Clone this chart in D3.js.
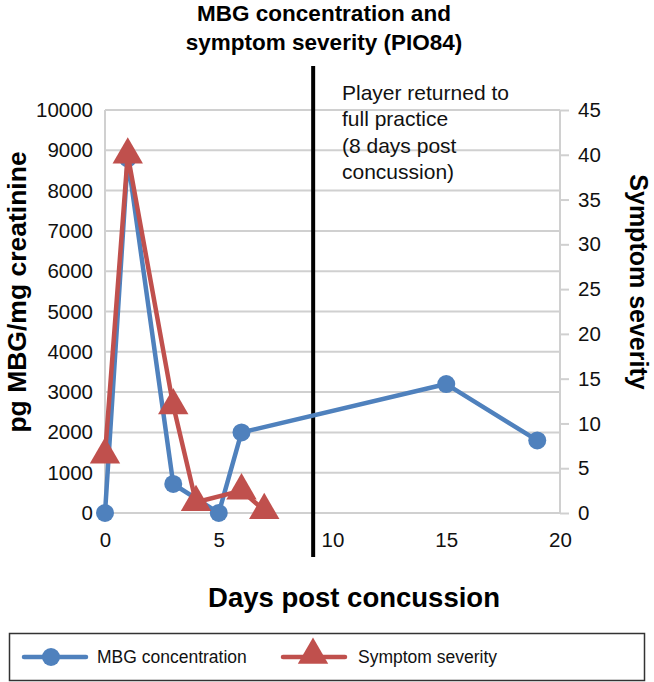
<!DOCTYPE html>
<html><head><meta charset="utf-8">
<script src="https://cdn.jsdelivr.net/npm/d3@7"></script>
<style>body{margin:0;background:#fff;}svg{display:block;font-family:"Liberation Sans",Arial,sans-serif;}</style>
</head><body>
<svg id="c" width="654" height="682"></svg>
<script>
const mbgDays = [0, 1, 3, 5, 6, 15, 19];
const mbgValues = [0, 8800, 720, 0, 2000, 3200, 1800];
const sympDays = [0, 1, 3, 4, 6, 7];
const sympValues = [6.5, 40, 12, 1.2, 2.5, 0.3];
const xTicks = [0, 5, 10, 15, 20];
const yLeftTicks = d3.range(0, 10001, 1000);
const yRightTicks = d3.range(0, 46, 5);
const returnDay = 9.15;
const annotation = ["Player returned to", "full practice", "(8 days post", "concussion)"];

const FONT = "Liberation Sans, Arial, sans-serif";
const svg = d3.select("#c");
const x = d3.scaleLinear().domain([0, 20]).range([105, 560]);
const yL = d3.scaleLinear().domain([0, 10000]).range([513, 110]);
const yR = d3.scaleLinear().domain([0, 45]).range([513, 110]);
const blue = "#4f81bd", red = "#c0504d", grid = "#d0d0d0";

// gridlines
svg.append("g").selectAll("line").data(yLeftTicks).join("line")
  .attr("x1", 105).attr("x2", 560).attr("y1", d => yL(d)).attr("y2", d => yL(d))
  .attr("stroke", grid).attr("stroke-width", 2);
// left axis line
svg.append("line").attr("x1", 105).attr("x2", 105).attr("y1", 110).attr("y2", 513)
  .attr("stroke", grid).attr("stroke-width", 2);

// left axis labels
const gL = svg.append("g").attr("transform", "translate(105,0)")
  .call(d3.axisLeft(yL).tickValues(yLeftTicks).tickSize(0).tickPadding(12).tickFormat(d3.format("d")));
gL.select(".domain").remove();
gL.selectAll("text").attr("font-size", 20.5).attr("fill", "#111").attr("font-family", FONT);

// right axis
const gR = svg.append("g").attr("transform", "translate(560,0)")
  .call(d3.axisRight(yR).tickValues(yRightTicks).tickSize(9).tickPadding(9).tickFormat(d3.format("d")));
gR.select(".domain").attr("stroke", grid).attr("stroke-width", 2).attr("d", "M0,110V513");
gR.selectAll(".tick line").attr("stroke", grid).attr("stroke-width", 2);
gR.selectAll("text").attr("font-size", 20.5).attr("fill", "#111").attr("font-family", FONT);

// x axis
const gX = svg.append("g").attr("transform", "translate(0,513)")
  .call(d3.axisBottom(x).tickValues(xTicks).tickSize(0).tickPadding(19));
gX.select(".domain").remove();
gX.selectAll("text").attr("font-size", 20.5).attr("fill", "#111").attr("font-family", FONT);

// vertical return line
svg.append("line").attr("x1", x(returnDay)).attr("x2", x(returnDay)).attr("y1", 66).attr("y2", 557)
  .attr("stroke", "#000").attr("stroke-width", 4);

// annotation
svg.append("text").attr("font-size", 21).attr("fill", "#111")
  .selectAll("tspan").data(annotation).join("tspan")
  .attr("x", 342).attr("y", (d, i) => 100 + i * 26.3).text(d => d);

// series
const tri = d3.symbol().type(d3.symbolTriangle).size(400);
svg.append("path").datum(mbgDays.map((d, i) => [d, mbgValues[i]]))
  .attr("d", d3.line().x(d => x(d[0])).y(d => yL(d[1])))
  .attr("fill", "none").attr("stroke", blue).attr("stroke-width", 4.5).attr("stroke-linejoin", "round");
svg.append("g").selectAll("circle").data(mbgDays.map((d, i) => [d, mbgValues[i]])).join("circle")
  .attr("cx", d => x(d[0])).attr("cy", d => yL(d[1])).attr("r", 9).attr("fill", blue);

svg.append("path").datum(sympDays.map((d, i) => [d, sympValues[i]]))
  .attr("d", d3.line().x(d => x(d[0])).y(d => yR(d[1])))
  .attr("fill", "none").attr("stroke", red).attr("stroke-width", 4.5).attr("stroke-linejoin", "round");
svg.append("g").selectAll("path").data(sympDays.map((d, i) => [d, sympValues[i]])).join("path")
  .attr("transform", d => `translate(${x(d[0])},${yR(d[1])})`).attr("d", tri).attr("fill", red);

// title
svg.append("text").attr("text-anchor", "middle").attr("font-size", 22.5).attr("font-weight", "bold")
  .selectAll("tspan").data(["MBG concentration and", "symptom severity (PIO84)"]).join("tspan")
  .attr("x", 324).attr("y", (d, i) => 21 + i * 28.5).text(d => d);

// axis titles
svg.append("text").attr("text-anchor", "middle").attr("font-size", 26.5).attr("font-weight", "bold")
  .attr("transform", "translate(26,292) rotate(-90)").text("pg MBG/mg creatinine");
svg.append("text").attr("text-anchor", "middle").attr("font-size", 25).attr("font-weight", "bold")
  .attr("transform", "translate(630,282) rotate(90)").text("Symptom severity");
svg.append("text").attr("text-anchor", "middle").attr("font-size", 27.5).attr("font-weight", "bold")
  .attr("x", 354).attr("y", 607).text("Days post concussion");

// legend
svg.append("rect").attr("x", 9.5).attr("y", 633.5).attr("width", 635).attr("height", 47)
  .attr("fill", "none").attr("stroke", "#333").attr("stroke-width", 1.5);
const lg = [{name: "MBG concentration", color: blue, x0: 24, type: "circle", tx: 97},
            {name: "Symptom severity", color: red, x0: 283, type: "tri", tx: 358}];
lg.forEach(l => {
  svg.append("line").attr("x1", l.x0).attr("x2", l.x0 + 62).attr("y1", 657).attr("y2", 657)
    .attr("stroke", l.color).attr("stroke-width", 4.5).attr("stroke-linecap", "round");
  if (l.type === "circle") svg.append("circle").attr("cx", l.x0 + 27).attr("cy", 657).attr("r", 9).attr("fill", l.color);
  else svg.append("path").attr("transform", `translate(${l.x0 + 30},655)`).attr("d", tri).attr("fill", l.color);
  svg.append("text").attr("x", l.tx).attr("y", 663).attr("font-size", 17.5).attr("fill", "#111").text(l.name);
});
</script>
</body></html>
